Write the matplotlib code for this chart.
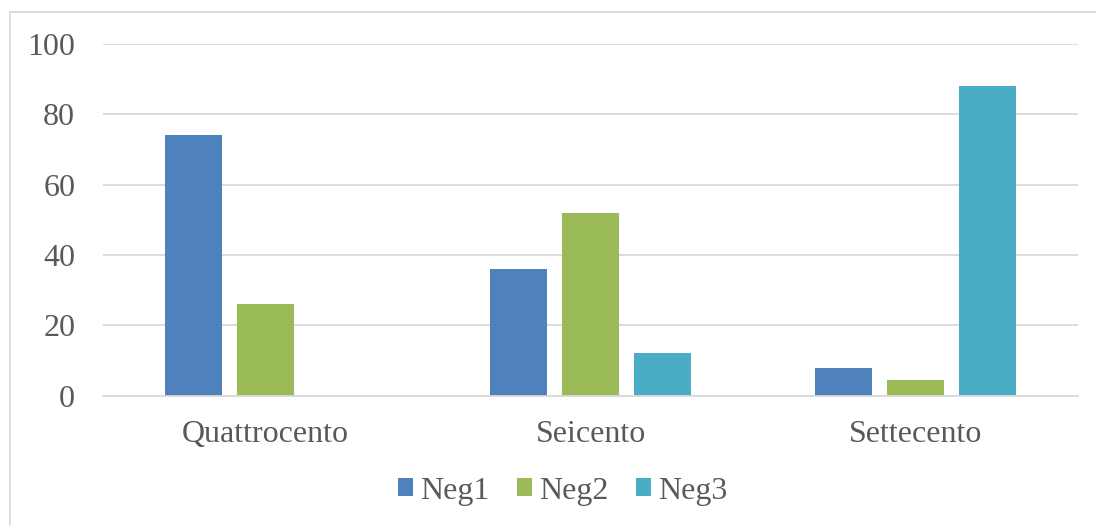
import numpy as np
import matplotlib
matplotlib.use("Agg")
import matplotlib.pyplot as plt
from matplotlib.lines import Line2D

categories = ["Quattrocento", "Seicento", "Settecento"]
series_names = ["Neg1", "Neg2", "Neg3"]
neg1 = [74, 36, 7.8]
neg2 = [26, 52, 4.6]
neg3 = [0, 12, 88]
colors = ["#4F81BD", "#9BBB59", "#4BACC6"]
y_ticks = [0, 20, 40, 60, 80, 100]

text_color = "#595959"
grid_color = "#D9D9D9"
plt.rcParams["font.family"] = ["Liberation Serif", "DejaVu Serif"]

fig = plt.figure(figsize=(10.96, 5.25), dpi=100)
ax = fig.add_axes([103 / 1096, 1 - 395.7 / 525, (1078 - 103) / 1096, 352 / 525])

x = np.arange(len(categories))
bar_w = 0.175
step = 0.2215
for i, (vals, name) in enumerate(zip([neg1, neg2, neg3], series_names)):
    ax.bar(x + (i - 1) * step, vals, width=bar_w, color=colors[i], label=name, zorder=3)

ax.set_xlim(-0.5, len(categories) - 0.5)
ax.set_ylim(0, 100)
ax.set_yticks(y_ticks)
ax.set_yticklabels([str(t) for t in y_ticks])
ax.set_xticks(x)
ax.set_xticklabels(categories)
ax.tick_params(axis="both", length=0, labelsize=23, colors=text_color)
ax.tick_params(axis="y", pad=20)
ax.tick_params(axis="x", pad=17.5)
ax.yaxis.grid(True, color=grid_color, linewidth=1.3, zorder=0)
for side in ["left", "right", "top"]:
    ax.spines[side].set_visible(False)
ax.spines["bottom"].set_color(grid_color)
ax.spines["bottom"].set_linewidth(1.3)
ax.spines["bottom"].set_zorder(4)

leg = fig.legend(loc="center", bbox_to_anchor=(563 / 1096, 1 - 491 / 525), ncol=3,
                 frameon=False, fontsize=23, handlelength=0.47, handleheight=0.47,
                 handletextpad=0.22, columnspacing=0.87, labelcolor=text_color)

# light frame around the chart area
fig.add_artist(Line2D([10 / 1096, 1.0], [1 - 12 / 525] * 2, color=grid_color, linewidth=1.3))
fig.add_artist(Line2D([10 / 1096] * 2, [0.0, 1 - 12 / 525], color=grid_color, linewidth=1.3))

fig.savefig("out.png", dpi=100)
